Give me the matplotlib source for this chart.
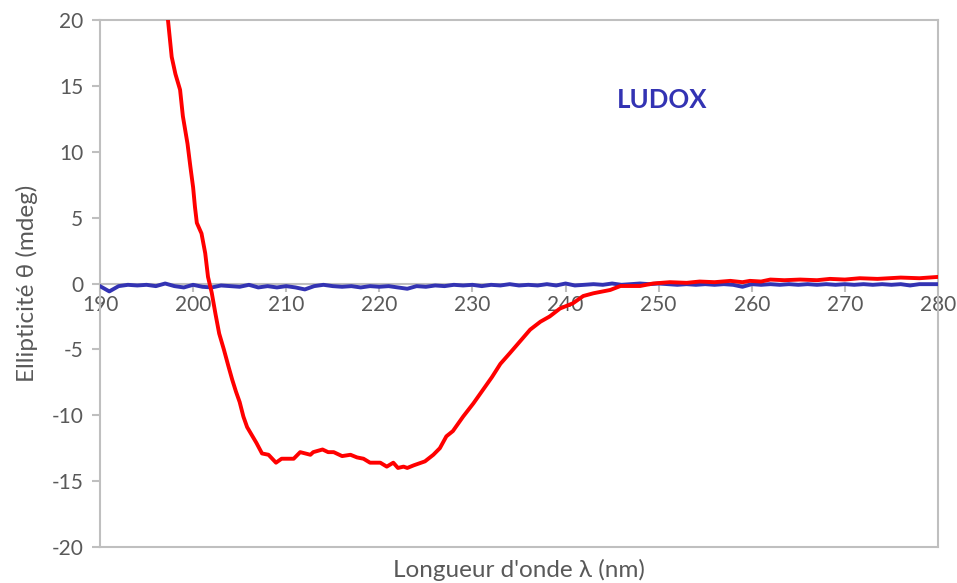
import numpy as np
import matplotlib
matplotlib.use("Agg")
import matplotlib.pyplot as plt

# -----------------------------
# Data: CD spectra (ellipticity in mdeg vs wavelength in nm)
# -----------------------------
# LUDOX alone (blue), sampled every nm from 190 to 280
ludox_wl = np.arange(190, 281, 1)
ludox_theta = [
    -0.20, -0.60, -0.20, -0.10, -0.15, -0.10, -0.20, 0.00, -0.20, -0.30,
    -0.10, -0.25, -0.30, -0.15, -0.20, -0.25, -0.10, -0.30, -0.20, -0.30,
    -0.20, -0.30, -0.45, -0.20, -0.10, -0.20, -0.25, -0.20, -0.30, -0.20,
    -0.25, -0.20, -0.30, -0.40, -0.20, -0.25, -0.15, -0.20, -0.10, -0.15,
    -0.10, -0.20, -0.10, -0.15, -0.05, -0.15, -0.10, -0.15, -0.05, -0.15,
    0.00, -0.15, -0.10, -0.05, -0.10, 0.00, -0.10, -0.05, 0.00, -0.05,
    0.00, -0.05, -0.10, -0.05, -0.10, -0.05, -0.10, -0.05, -0.10, -0.25,
    -0.05, -0.10, -0.05, -0.10, -0.05, -0.10, -0.05, -0.10, -0.05, -0.10,
    -0.05, -0.10, -0.05, -0.10, -0.05, -0.10, -0.05, -0.15, -0.05, -0.05,
    -0.05,
]

# Protein + LUDOX (red), hand-read points
sample_wl = [
    197.0, 197.3, 197.7, 198.1, 198.6, 198.9, 199.4, 199.7, 200.0, 200.2,
    200.4, 200.9, 201.3, 201.6, 202.0, 202.4, 202.8, 203.3, 203.8, 204.2,
    204.6, 205.0, 205.4, 205.8, 206.3, 206.8, 207.4, 208.1, 208.9, 209.5,
    210.8, 211.5, 212.6, 212.9, 213.9, 214.5, 215.1, 216.0, 216.9, 217.6,
    218.3, 219.0, 220.1, 220.8, 221.5, 222.0, 222.6, 223.0, 223.7, 224.9,
    225.8, 226.5, 227.2, 227.9, 229.0, 230.1, 231.2, 232.1, 233.0, 234.0,
    235.1, 236.2, 237.3, 238.3, 239.4, 240.8, 241.9, 243.0, 244.8, 245.9,
    248.0, 249.4, 251.2, 253.0, 254.4, 256.0, 257.7, 259.0, 259.8, 261.0,
    262.0, 263.5, 265.2, 267.0, 268.4, 270.0, 271.6, 273.5, 276.0, 278.0,
    280.0,
]
sample_theta = [
    22.0, 20.0, 17.2, 15.9, 14.7, 12.7, 10.6, 8.9, 7.3, 5.8,
    4.6, 3.8, 2.3, 0.5, -0.7, -2.3, -3.8, -5.0, -6.3, -7.3,
    -8.2, -9.0, -10.1, -10.9, -11.5, -12.1, -12.9, -13.0, -13.6, -13.3,
    -13.3, -12.8, -13.0, -12.8, -12.6, -12.8, -12.8, -13.1, -13.0, -13.2,
    -13.3, -13.6, -13.6, -13.9, -13.6, -14.0, -13.9, -14.0, -13.8, -13.5,
    -13.0, -12.5, -11.6, -11.2, -10.1, -9.1, -8.0, -7.1, -6.1, -5.3,
    -4.4, -3.5, -2.9, -2.5, -1.9, -1.5, -0.95, -0.74, -0.49, -0.19,
    -0.19, 0.0, 0.1, 0.05, 0.15, 0.1, 0.2, 0.1, 0.2, 0.15,
    0.3, 0.25, 0.3, 0.25, 0.35, 0.3, 0.4, 0.35, 0.45, 0.4,
    0.5,
]

x_ticks = np.arange(190, 281, 10)
y_ticks = np.arange(-20, 21, 5)

# -----------------------------
# Plot
# -----------------------------
plt.rcParams["font.family"] = ["Lato", "DejaVu Sans"]
plt.rcParams["axes.unicode_minus"] = False

grey = "#BFBFBF"
txt = "#595959"

fig = plt.figure(figsize=(9.57, 5.83), dpi=100)
ax = fig.add_axes([100 / 957, 1 - 547 / 583, 838 / 957, 527 / 583])

ax.plot(ludox_wl, ludox_theta, color="#3333B3", lw=2.8, zorder=3)
ax.plot(sample_wl, sample_theta, color="#FF0000", lw=2.8, zorder=4)

ax.set_xlim(190, 280)
ax.set_ylim(-20, 20)

for s in ax.spines.values():
    s.set_color(grey)
    s.set_linewidth(1.5)

# x axis crosses at theta = 0; keep a plain frame line at the bottom
ax.spines["bottom"].set_position(("data", 0))
ax.spines["bottom"].set_zorder(2)
ax.plot([0, 1], [0, 0], transform=ax.transAxes, color=grey, lw=1.5,
        clip_on=False, zorder=2)

ax.set_xticks(x_ticks)
ax.set_yticks(y_ticks)
ax.tick_params(axis="x", direction="out", length=6, width=1.5, color=grey,
               labelcolor=txt, labelsize=15, pad=2)
ax.tick_params(axis="y", direction="out", length=6, width=1.5, color=grey,
               labelcolor=txt, labelsize=15, pad=6)

ax.set_ylabel("Ellipticité θ (mdeg)", fontsize=17.5, color=txt, labelpad=10)
ax.text(0.5, -0.044, "Longueur d'onde λ (nm)", transform=ax.transAxes,
        fontsize=17.5, color=txt, ha="center", va="center")

ax.text(250.4, 13.9, "LUDOX", color="#3333B3", fontsize=18.5,
        fontweight="bold", ha="center", va="center")

fig.savefig("out.png", dpi=100)
